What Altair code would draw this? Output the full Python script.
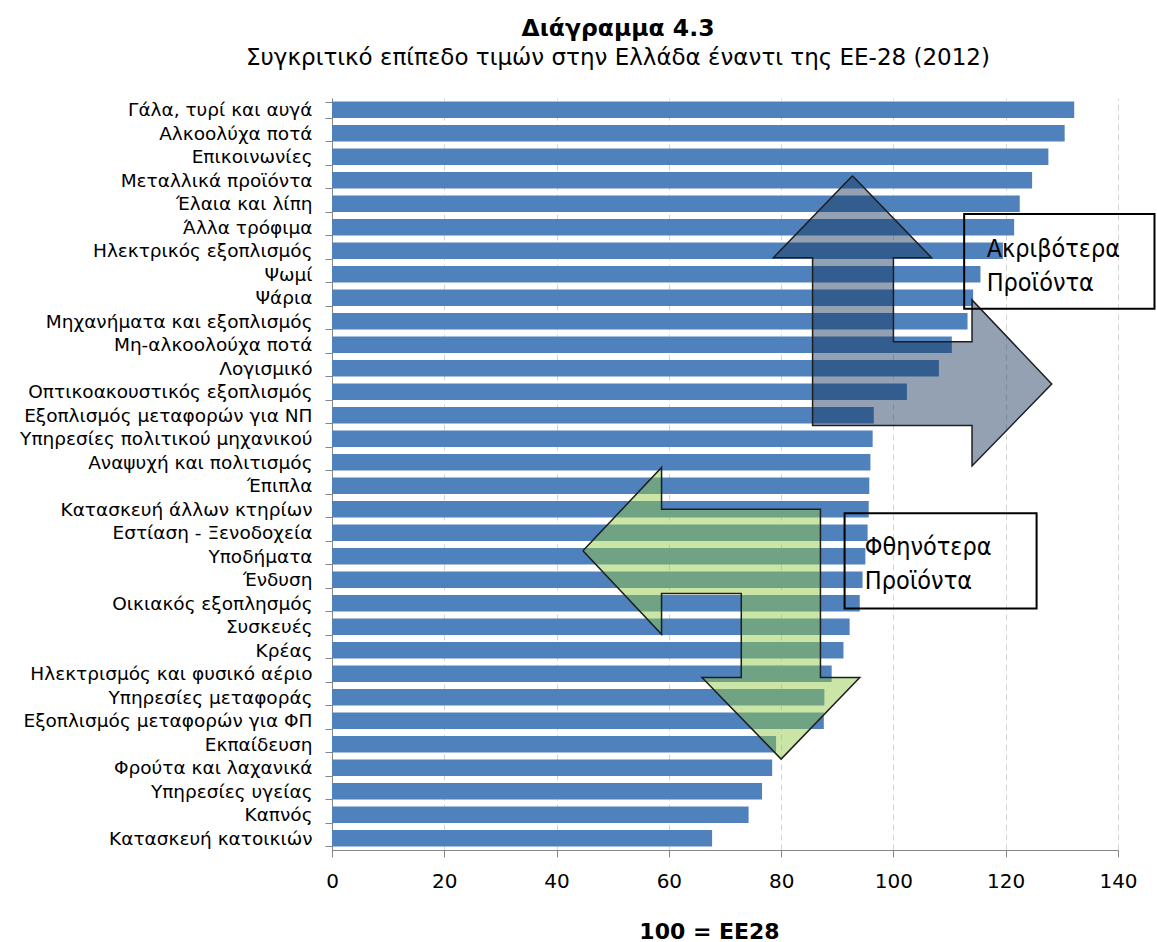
import altair as alt
import pandas as pd

# Price level index per product group, Greece vs EU-28 (EU-28 = 100), 2012
categories = [
    "Γάλα, τυρί και αυγά",
    "Αλκοολύχα ποτά",
    "Επικοινωνίες",
    "Μεταλλικά προϊόντα",
    "Έλαια και λίπη",
    "Άλλα τρόφιμα",
    "Ηλεκτρικός εξοπλισμός",
    "Ψωμί",
    "Ψάρια",
    "Μηχανήματα και εξοπλισμός",
    "Μη-αλκοολούχα ποτά",
    "Λογισμικό",
    "Οπτικοακουστικός εξοπλισμός",
    "Εξοπλισμός μεταφορών για ΝΠ",
    "Υπηρεσίες πολιτικού μηχανικού",
    "Αναψυχή και πολιτισμός",
    "Έπιπλα",
    "Κατασκευή άλλων κτηρίων",
    "Εστίαση - Ξενοδοχεία",
    "Υποδήματα",
    "Ένδυση",
    "Οικιακός εξοπλησμός",
    "Συσκευές",
    "Κρέας",
    "Ηλεκτρισμός και φυσικό αέριο",
    "Υπηρεσίες μεταφοράς",
    "Εξοπλισμός μεταφορών για ΦΠ",
    "Εκπαίδευση",
    "Φρούτα και λαχανικά",
    "Υπηρεσίες υγείας",
    "Καπνός",
    "Κατασκευή κατοικιών",
]
values = [
    132.2, 130.5, 127.6, 124.7, 122.5, 121.5, 119.5, 115.5,
    114.2, 113.2, 110.4, 108.1, 102.4, 96.5, 96.3, 95.9,
    95.7, 95.6, 95.4, 95.0, 94.5, 94.0, 92.2, 91.1,
    89.0, 87.7, 87.6, 79.1, 78.4, 76.6, 74.2, 67.7,
]
x_ticks = [0, 20, 40, 60, 80, 100, 120, 140]

# Overlay shapes in (index value, row position) units; row k centre = k + 0.5
dearer_arrow_x = [92.7, 106.8, 100.0, 100.0, 114.0, 114.0, 128.2, 114.0, 114.0, 85.6, 85.6, 78.6, 92.7]
dearer_arrow_r = [3.31, 6.80, 6.80, 10.37, 10.37, 8.59, 12.17, 15.66, 13.94, 13.94, 6.80, 6.80, 3.31]
cheaper_arrow_x = [44.7, 58.7, 58.7, 87.0, 87.0, 94.0, 80.0, 65.9, 72.9, 72.9, 58.7, 58.7, 44.7]
cheaper_arrow_r = [19.27, 15.72, 17.50, 17.50, 24.66, 24.66, 28.13, 24.66, 24.66, 21.08, 21.08, 22.82, 19.27]

box_labels = ["Ακριβότερα\nΠροϊόντα", "Φθηνότερα\nΠροϊόντα"]
box_x = [112.6, 91.3]
box_x2 = [146.5, 125.5]
box_r = [4.94, 17.67]
box_r2 = [8.97, 21.72]
text_x = [116.6, 94.9]
text_r = [6.75, 19.45]

FONT = "DejaVu Sans"
BOX_FONT = "DejaVu Sans Condensed, Liberation Sans Narrow, DejaVu Sans"
N_ROWS = len(categories)

bars_df = pd.DataFrame({"category": categories, "value": values})
dearer_df = pd.DataFrame({"x": dearer_arrow_x, "r": dearer_arrow_r, "i": range(len(dearer_arrow_x))})
cheaper_df = pd.DataFrame({"x": cheaper_arrow_x, "r": cheaper_arrow_r, "i": range(len(cheaper_arrow_x))})
box_df = pd.DataFrame({"x": box_x, "x2": box_x2, "r": box_r, "r2": box_r2})
text_df = pd.DataFrame({
    "x": text_x, "r": text_r,
    "label": [t.split("\n") for t in box_labels],
})

x_scale = alt.Scale(domain=[0, 140], nice=False, zero=True)
row_scale = alt.Scale(domain=[0, N_ROWS], reverse=True, nice=False, zero=False)

x_axis = alt.Axis(
    values=x_ticks,
    title="100 = ΕΕ28",
    titleFont=FONT,
    titleFontSize=22,
    titleFontWeight="bold",
    titleColor="black",
    titlePadding=30,
    titleX=377,
    titleAlign="center",
    labelFont=FONT,
    labelFontSize=20,
    labelColor="black",
    labelPadding=14,
    labelFlush=False,
    tickSize=7,
    tickColor="#868686",
    domainColor="#868686",
    grid=True,
    gridColor="#d4d4d4",
    gridDash=[6, 4],
)

bars = alt.Chart(bars_df).mark_bar(color="#4f81bd").encode(
    x=alt.X("value:Q", scale=x_scale, axis=x_axis),
    y=alt.Y(
        "category:N",
        sort=None,
        scale=alt.Scale(paddingInner=0.3, paddingOuter=0.15),
        axis=alt.Axis(
            title=None,
            labelFont=FONT,
            labelFontSize=18.5,
            labelColor="black",
            labelPadding=13,
            labelLimit=400,
            tickBand="extent",
            tickSize=7,
            tickColor="#868686",
            domainColor="#868686",
        ),
    ),
)

def overlay_x(field="x"):
    return alt.X(f"{field}:Q", scale=x_scale, axis=x_axis)

def overlay_y(field="r"):
    return alt.Y(f"{field}:Q", scale=row_scale, axis=None)

dearer = alt.Chart(dearer_df).mark_line(
    fill="#143259", fillOpacity=0.46, stroke="#1e1e1e", strokeWidth=1.5, strokeJoin="miter"
).encode(x=overlay_x(), y=overlay_y(), order="i:Q")

cheaper = alt.Chart(cheaper_df).mark_line(
    fill="#92c846", fillOpacity=0.48, stroke="#1e1e1e", strokeWidth=1.5, strokeJoin="miter"
).encode(x=overlay_x(), y=overlay_y(), order="i:Q")

boxes = alt.Chart(box_df).mark_rect(
    fillOpacity=0, stroke="black", strokeWidth=2
).encode(x=overlay_x(), x2="x2:Q", y=overlay_y(), y2="r2:Q")

box_text = alt.Chart(text_df).mark_text(
    align="left", baseline="alphabetic", font=BOX_FONT, fontSize=25, color="black", lineHeight=34
).encode(x=overlay_x(), y=overlay_y(), text="label")

chart = (
    alt.layer(bars, dearer, cheaper, boxes, box_text)
    .resolve_scale(y="independent")
    .properties(
        width=786,
        height=752,
        autosize=alt.AutoSizeParams(type="none"),
        padding={"left": 332, "top": 98, "right": 39, "bottom": 92},
        title=alt.Title(
            "Διάγραμμα 4.3",
            subtitle="Συγκριτικό επίπεδο τιμών στην Ελλάδα έναντι της ΕΕ-28 (2012)",
            anchor="middle",
            dx=-107,
            offset=19,
            font=FONT,
            fontSize=23.5,
            fontWeight="bold",
            color="black",
            subtitleFont=FONT,
            subtitleFontSize=23,
            subtitleColor="black",
            subtitlePadding=7,
        ),
    )
    .configure_view(stroke=None)
)

chart.save("out.html", embed_options={"renderer": "svg", "actions": False})
